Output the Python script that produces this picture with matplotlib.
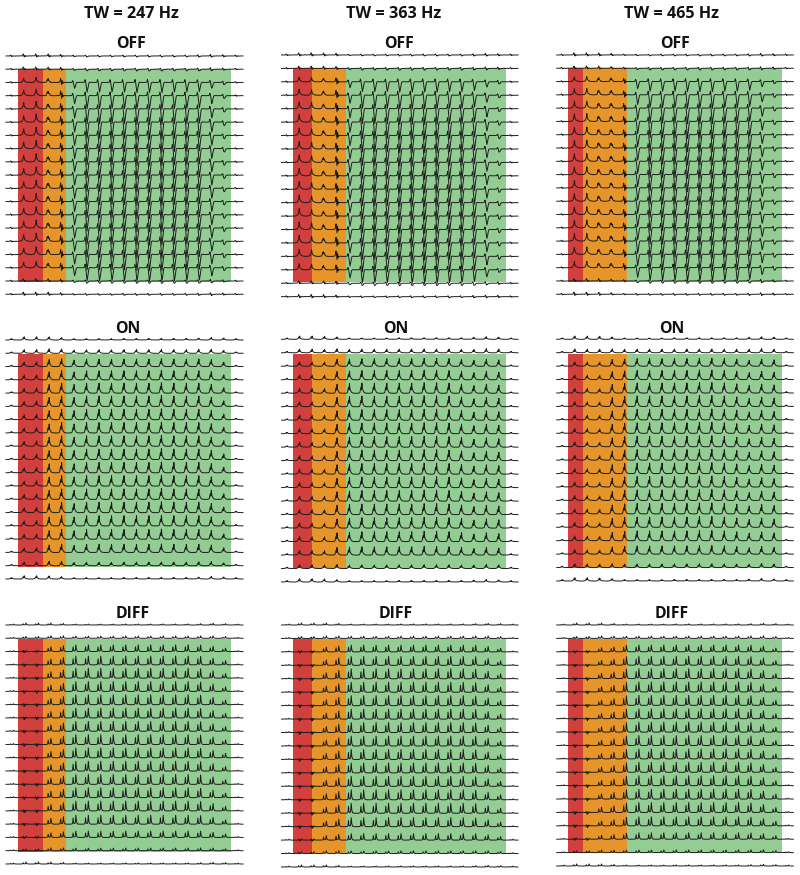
import numpy as np
import matplotlib
matplotlib.use("Agg")
import matplotlib.pyplot as plt
from matplotlib.patches import Rectangle

plt.rcParams['font.family'] = ['Open Sans', 'DejaVu Sans']

W, H = 800, 875

sequences = ["OFF", "ON", "DIFF"]
tw_labels = ["TW = 247 Hz", "TW = 363 Hz", "TW = 465 Hz"]

# one voxel spectrum, heights in units of the row spacing
shape_x = [0, .15, .25, .30, .34, .38, .42, .46, .50, .55, .60, .65, .72, .85, 1]

off_g = [0, .01, .02, .10, .34, .10, -.32, -.80, -1.22, -.85, -.42, -.05, .03, .01, 0]
off_r = [0, .02, .05, .12, .22, .30, .62, .35, .20, .14, .10, .06, .03, .01, 0]
off_o = [0, .02, .08, .42, .30, .45, .25, .35, .14, .07, .04, .02, .01, 0, 0]
off_p = [0, .01, .03, .06, .20, .50, .10, -.28, .32, -.12, .02, .02, .01, 0, 0]
off_s = [0, .01, 0, .01, .03, .10, .03, -.06, .02, -.03, .01, 0, -.01, .01, 0]

on_g = [0, 0, .02, .08, .30, .48, .28, .78, .34, .22, .12, .06, .02, 0, 0]
on_r = [0, .01, .03, .08, .16, .26, .16, .40, .16, .10, .06, .04, .02, .01, 0]
on_s = [0, 0, .01, .03, .05, .10, .05, .15, .06, .04, .02, .01, .01, 0, 0]

diff_g = [0, 0, .01, .02, .10, .52, .12, .05, .05, .10, .74, .22, .03, 0, 0]
diff_r = [0, .01, 0, -.03, .03, .08, -.05, -.14, .04, -.06, .05, .01, 0, .01, 0]
diff_s = [0, 0, 0, .01, .01, .06, .01, .01, .01, .01, .10, .02, .01, 0, 0]

shapes = {
    "OFF": {"g": off_g, "r": off_r, "o": off_o, "p": off_p, "e": off_s},
    "ON": {"g": on_g, "r": on_r, "o": on_g, "p": on_g, "e": on_s},
    "DIFF": {"g": diff_g, "r": diff_r, "o": diff_g, "p": diff_g, "e": diff_s},
}
small_shapes = {"OFF": off_s, "ON": on_s, "DIFF": diff_s}

# gain of each row, top to bottom
row_gain = {
    "OFF": [.04, .10, .60, .80, .92, 1, 1, 1, 1, 1, 1, 1, 1, 1, 1, .95, .80, .14, .04],
    "ON": [.02, .25, .68, .85, .95, 1, 1, 1, 1, 1, 1, 1, 1, 1, .98, .92, .75, .25, .02],
    "DIFF": [.02, .16, .65, .88, 1, 1, 1, 1, 1, 1, 1, 1, 1, 1, 1, .90, .62, .20, .02],
}

# voxel kind of each column, per panel
kinds = {
    ("OFF", 0): "errop" + "g" * 13 + "e",
    ("OFF", 1): "errop" + "g" * 13 + "e",
    ("OFF", 2): "erroop" + "g" * 12 + "e",
    ("ON", 0): "erroo" + "g" * 13 + "e",
    ("ON", 1): "errro" + "g" * 13 + "e",
    ("ON", 2): "errroo" + "g" * 12 + "e",
    ("DIFF", 0): "erroo" + "g" * 13 + "e",
    ("DIFF", 1): "erroo" + "g" * 13 + "e",
    ("DIFF", 2): "erroo" + "g" * 13 + "e",
}

# gain of each column, per panel
col_gain = {
    ("OFF", 0): [0, .8, 1, .8, .8, .62, 1, 1, 1, 1, 1.05, 1.05, 1.05, 1, 1, .95, .62, .22, 0],
    ("OFF", 1): [0, .9, .8, .7, .8, .62, 1, 1, 1, 1.05, 1.05, 1.05, 1.05, 1, 1, .9, .55, .2, 0],
    ("OFF", 2): [0, .9, .95, .8, .8, .7, .75, 1, 1, 1, 1.05, 1.05, 1.05, 1, 1, .9, .55, .2, 0],
    ("ON", 0): [0, .85, 1, .8, 1, .85, 1, 1, 1, 1, 1, 1, 1.05, 1, 1, 1, .85, .42, 0],
    ("ON", 1): [0, .85, .8, .75, .85, .95, 1, 1, 1, 1, 1, 1.05, 1.05, 1, .9, .7, .85, .75, 0],
    ("ON", 2): [0, .8, .7, .6, .8, .95, 1, 1, 1, 1, 1, 1.05, 1.05, 1, .9, .7, .85, .75, 0],
    ("DIFF", 0): [0, 1, 1, .55, .8, 1, 1, 1, 1, 1, 1, 1, 1, 1, 1, .95, .7, .38, 0],
    ("DIFF", 1): [0, 1, 1, .5, .8, 1, 1, 1, 1, 1, 1, 1, 1, 1, 1, .95, .7, .42, 0],
    ("DIFF", 2): [0, 1, 1, .4, .6, .95, 1, 1, 1, 1, 1, 1, 1, 1, 1, .95, .75, .42, 0],
}

# size of the small ripple along the outer rows and columns
edge_gain = [.7, 1.6, 1.6, 1.5, 1.1, .6, .6, .6, .6, .7, .7, .7, .7, .7, .7, .9, 1.2, 1.0, .7]

# pixel placement of the panels
col_left = [6, 281.5, 556.7]
col_right = [243, 518, 793.3]
row_first = {"OFF": [56, 55, 55], "ON": [340, 339.3, 339.3], "DIFF": [625, 625, 625]}
row_last = {"OFF": [294.3, 296.7, 294.3], "ON": [579, 582, 581], "DIFF": [864, 867, 866]}

band_edges = [[.96, 2.97, 4.81, 18.04], [.90, 2.47, 5.18, 18.0], [.93, 2.14, 5.65, 18.07]]
band_rows = {
    "OFF": [(.98, 17.1), (.97, 16.93), (1.0, 17.07)],
    "ON": [(1.05, 17.1), (1.09, 16.96), (1.09, 17.0)],
    "DIFF": [(1.05, 17.1), (1.04, 16.96), (1.05, 17.0)],
}
band_colors = ["#d1403c", "#e6952b", "#93cd94"]

title_x = [131, 394, 671]
seq_x = {"OFF": [131, 399, 675], "ON": [128, 396, 672], "DIFF": [133, 396, 672]}
seq_y = {"OFF": 44, "ON": 329, "DIFF": 614}

fig = plt.figure(figsize=(W / 100, H / 100), dpi=100)


def row_trace(seq, panel, r):
    xs, ys = [], []
    for c, kind in enumerate(kinds[(seq, panel)]):
        main = np.array(shapes[seq][kind])
        small = np.array(small_shapes[seq]) * edge_gain[c]
        a = min(row_gain[seq][r] * col_gain[(seq, panel)][c], 1.1)
        xs.append(c + np.array(shape_x))
        ys.append(r - (a * main + (1 - a) * small))
    return np.concatenate(xs), np.concatenate(ys)


for p in range(3):
    fig.text(title_x[p] / W, 1 - 13.5 / H, tw_labels[p], ha='center', va='center',
             fontsize=11.6, fontweight='bold', color='#111111')
    for seq in sequences:
        top, bottom = row_first[seq][p], row_last[seq][p]
        ax = fig.add_axes([col_left[p] / W, 1 - bottom / H,
                           (col_right[p] - col_left[p]) / W, (bottom - top) / H])
        ax.set_xlim(0, 19)
        ax.set_ylim(18, 0)
        ax.axis('off')

        r0, r1 = band_rows[seq][p]
        e = band_edges[p]
        for i in range(3):
            ax.add_patch(Rectangle((e[i], r0), e[i + 1] - e[i], r1 - r0,
                                   facecolor=band_colors[i], edgecolor='none', zorder=1))

        for r in range(19):
            x, y = row_trace(seq, p, r)
            ax.plot(x, y, color='#1c1c1c', lw=0.7, zorder=2, clip_on=False,
                    solid_joinstyle='round')

        fig.text(seq_x[seq][p] / W, 1 - seq_y[seq] / H, seq, ha='center', va='center',
                 fontsize=11.4, fontweight='bold', color='#111111')

fig.savefig("out.png", dpi=100)
